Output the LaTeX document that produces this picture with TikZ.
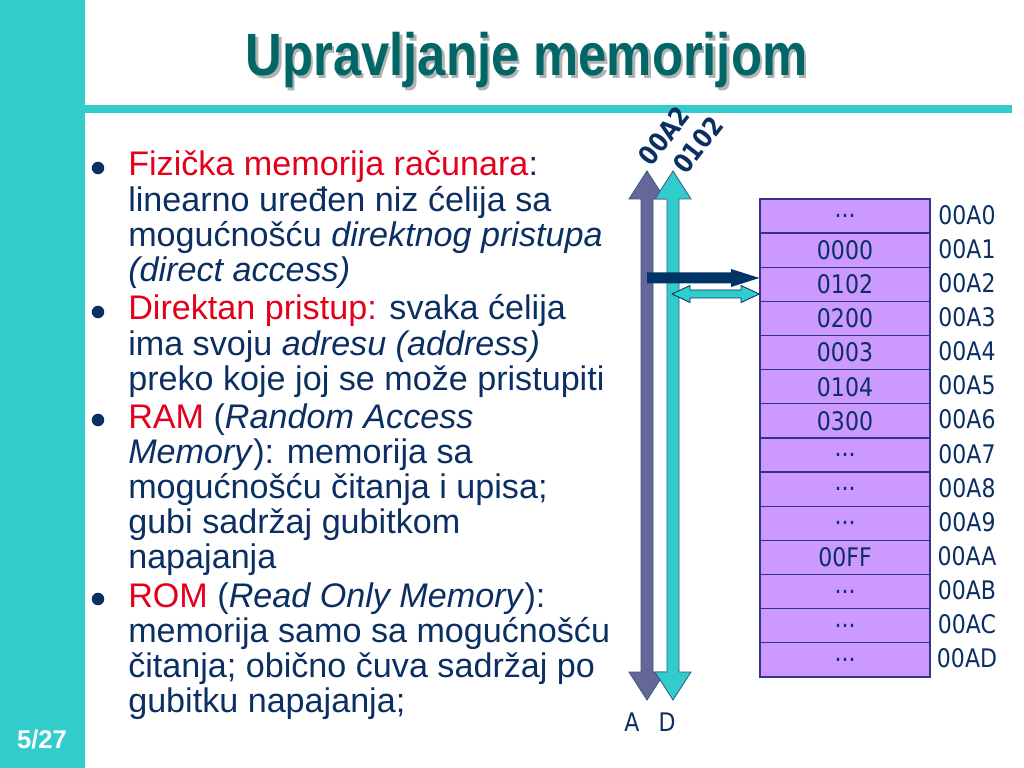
\documentclass[tikz,border=0pt]{standalone}
\usepackage{fontspec}
\setmainfont{Liberation Sans}
\newfontfamily\tah[FakeStretch=0.86]{DejaVu Sans}
\newfontfamily\titlefont[FakeStretch=0.85]{Liberation Sans}
\definecolor{teal1}{HTML}{33CCCC}
\definecolor{titlecol}{HTML}{006666}
\definecolor{navy}{HTML}{0B2F63}
\definecolor{redc}{HTML}{E3001B}
\definecolor{acol}{HTML}{666699}
\definecolor{darknavy}{HTML}{003366}
\definecolor{lav}{HTML}{CC99FF}
\definecolor{rowline}{HTML}{333388}
\newcommand{\rd}[1]{\textcolor{redc}{#1}}
\newcommand{\dts}{...}
\begin{document}
\begin{tikzpicture}[x=0.703125pt,y=-0.703125pt,
  body/.style={anchor=base west,inner sep=0pt,text=navy,font=\fontsize{24}{24}\selectfont},
  cell/.style={draw=rowline,line width=0.9pt,fill=lav,minimum width=119.53pt,minimum height=24.0pt,inner sep=0pt,text=navy,font=\tah\fontsize{18}{18}\selectfont},
  addr/.style={inner sep=0pt,text=navy,font=\tah\fontsize{18}{18}\selectfont},
  rotl/.style={rotate=52,inner sep=0pt,text=navy,font=\tah\bfseries\fontsize{18.5}{18.5}\selectfont},
  arrout/.style={draw=darknavy,line width=0.6pt,line join=miter}]
\useasboundingbox (0,0) rectangle (1024,768);
% sidebar and rule
\fill[teal1] (0,0) rectangle (85,768);
\fill[teal1] (85,105) rectangle (1012,113);
% title
\node[text=black!30,font=\titlefont\bfseries\fontsize{42}{42}\selectfont,anchor=base,inner sep=0pt] (tshadow) at (529,79) {Upravljanje memorijom};
\node[text=titlecol,font=\titlefont\bfseries\fontsize{42}{42}\selectfont,anchor=base,inner sep=0pt] (title) at (526.5,76) {Upravljanje memorijom};
% page number
\node[text=white,font=\bfseries\fontsize{18}{18}\selectfont,anchor=base,inner sep=0pt] (page) at (42,748) {5/27};
% bullets
\foreach \yy in {176,320,428,607}
  \fill[navy] (98,\yy-8) circle[radius=4.4pt];
% text lines
\node[body] (l1) at (128,176) {\rd{Fizička memorija računara}:};
\node[body] (l2) at (128,212) {linearno uređen niz ćelija sa};
\node[body] (l3) at (128,247) {mogućnošću \textit{direktnog pristupa}};
\node[body] (l4) at (128,282) {\textit{(direct access)}};
\node[body] (l5) at (128,320) {\rd{Direktan pristup:} svaka ćelija};
\node[body] (l6) at (128,355) {ima svoju \textit{adresu (address)}};
\node[body] (l7) at (128,390) {preko koje joj se može pristupiti};
\node[body] (l8) at (128,428) {\rd{RAM} (\textit{Random Access}};
\node[body] (l9) at (128,463) {\textit{Memory}): memorija sa};
\node[body] (l10) at (128,498) {mogućnošću čitanja i upisa;};
\node[body] (l11) at (128,533) {gubi sadržaj gubitkom};
\node[body] (l12) at (128,568) {napajanja};
\node[body] (l13) at (128,607) {\rd{ROM} (\textit{Read Only Memory}):};
\node[body] (l14) at (128,642) {memorija samo sa mogućnošću};
\node[body] (l15) at (128,677) {čitanja; obično čuva sadržaj po};
\node[body] (l16) at (128,712) {gubitku napajanja;};
% bus arrows A and D
\path[arrout,draw=darknavy!80,fill=acol] (641,199) -- (629,199) -- (647,171) -- (665,199) -- (653,199)
  -- (653,672) -- (665,672) -- (647,700) -- (629,672) -- (641,672) -- cycle;
\path[arrout,draw=darknavy!80,fill=teal1] (667,199) -- (655,199) -- (673,171) -- (691,199) -- (679,199)
  -- (679,672) -- (691,672) -- (673,700) -- (655,672) -- (667,672) -- cycle;
\node[rotl] (la) at (664,136) {00A2};
\node[rotl] (ld) at (698,145) {0102};
\node[addr] (A) at (632,722) {A};
\node[addr] (D) at (667,722) {D};
% memory table
\foreach \c [count=\i from 0] in {\dts,0000,0102,0200,0003,0104,0300,\dts,\dts,\dts,00FF,\dts,\dts,\dts}
  \node[cell] (r\i) at (845,{199+34.14*(\i+0.5)}) {\c};
\foreach \a [count=\i from 0] in {00A0,00A1,00A2,00A3,00A4,00A5,00A6,00A7,00A8,00A9,00AA,00AB,00AC,00AD}
  \node[addr] (a\i) at (967,{215+34.1*\i}) {\a};
% address arrow (dark) and data arrow (teal double)
\path[fill=darknavy] (647,272.5) -- (731,272.5) -- (731,269) -- (r2.west |- 0,278) -- (731,287) -- (731,283.5) -- (647,283.5) -- cycle;
\path[arrout,fill=teal1] (r2.west |- 0,294) -- (741,285.5) -- (741,290) -- (690,290) -- (690,285.5) -- (672,294)
  -- (690,302.5) -- (690,298) -- (741,298) -- (741,302.5) -- cycle;
\end{tikzpicture}
\end{document}
